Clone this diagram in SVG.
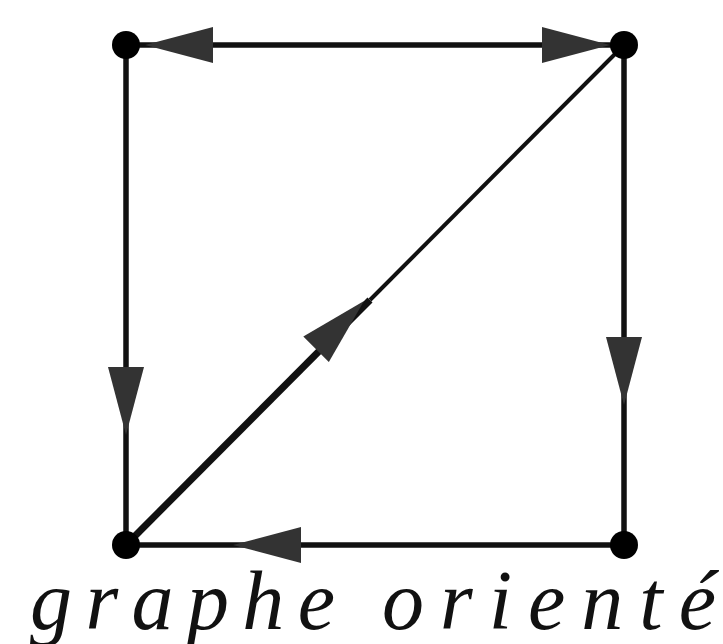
<svg xmlns="http://www.w3.org/2000/svg" width="723" height="644" viewBox="0 0 723 644">
  <style>
    .edge { stroke: #111; stroke-width: 5.5; fill: none; stroke-linecap: butt; }
    .node { fill: #000; }
    .head { fill: #333; }
    .label { font-family: "Liberation Serif", "DejaVu Serif", serif; font-style: italic; font-size: 84px; fill: #111; }
  </style>
  <defs>
    <polygon id="ah" class="head" points="0,0 -68,-18 -68,18"/>
  </defs>
  <rect width="723" height="644" fill="#fff"/>
  <g id="connectors">
    <line class="edge" x1="126" y1="45" x2="624" y2="45"/>
    <line class="edge" x1="126" y1="45" x2="126" y2="545"/>
    <line class="edge" x1="624" y1="45" x2="624" y2="545"/>
    <line class="edge" x1="126" y1="545" x2="624" y2="545"/>
    <line class="edge" x1="126" y1="545" x2="370" y2="300" style="stroke-width:7"/>
    <line class="edge" x1="370" y1="300" x2="624" y2="45" style="stroke-width:4"/>
    <use href="#ah" transform="translate(145,45) rotate(180)"/>
    <use href="#ah" transform="translate(610,45)"/>
    <use href="#ah" transform="translate(126,435) rotate(90)"/>
    <use href="#ah" transform="translate(624,405) rotate(90)"/>
    <use href="#ah" transform="translate(233,545) rotate(180)"/>
    <use href="#ah" transform="translate(364,301) rotate(-45.2)"/>
  </g>
  <g id="n1"><circle class="node" cx="126" cy="45" r="14"/></g>
  <g id="n2"><circle class="node" cx="624" cy="45" r="14"/></g>
  <g id="n3"><circle class="node" cx="126" cy="545" r="14"/></g>
  <g id="n4"><circle class="node" cx="624" cy="545" r="14"/></g>
  <g id="caption">
    <text class="label" y="629"><tspan x="30" textLength="305" lengthAdjust="spacing">graphe</tspan><tspan x="382" textLength="334" lengthAdjust="spacing">orienté</tspan></text>
  </g>
</svg>
